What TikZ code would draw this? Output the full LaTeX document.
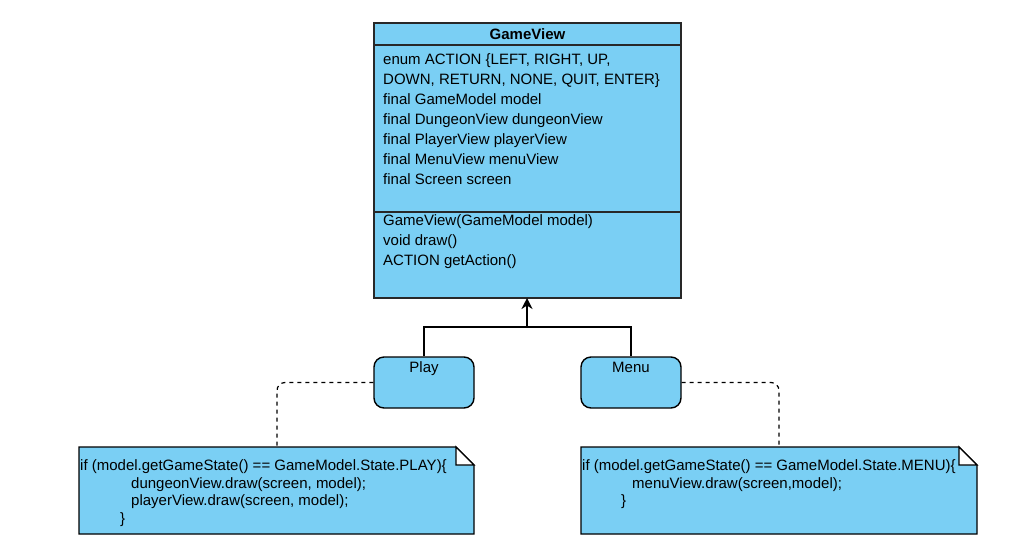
\documentclass[tikz,border=0pt]{standalone}
\usepackage{fontspec}
\setmainfont{Liberation Sans}
\usetikzlibrary{arrows.meta}
\definecolor{boxblue}{RGB}{122,207,244}
\definecolor{edge}{RGB}{40,40,40}
\tikzset{
  txt/.style={inner sep=0pt, anchor=base west, font=\fontsize{15}{18}\selectfont},
  ntxt/.style={inner sep=0pt, anchor=base west, font=\fontsize{15}{18}\selectfont},
  clsbox/.style={draw=edge, fill=boxblue, line width=1.4pt},
  statebox/.style={draw=black, fill=boxblue, line width=1.4pt, rounded corners=10pt},
  conn/.style={draw=black, line width=1.4pt},
  notebox/.style={fill=boxblue, draw=black, line width=1.4pt},
  foldbox/.style={fill=white, draw=black, line width=1.4pt, line join=miter},
  dashconn/.style={draw=black, line width=1.2pt, dash pattern=on 4pt off 4pt, rounded corners=8pt},
}
\begin{document}
\begin{tikzpicture}[x=1pt,y=-1pt]
\useasboundingbox (0,0) rectangle (1022,552);
% class box
\path[clsbox] (374,23) rectangle (681,298);
\coordinate (cls) at (527,298);
\draw[edge, line width=1.4pt] (374,45) -- (681,45);
\draw[edge, line width=1.4pt] (374,212) -- (681,212);
\node[inner sep=0pt, anchor=base, font=\fontsize{15}{18}\selectfont\bfseries] (title) at (527.5,39.5) {GameView};
\foreach \t [count=\i] in {{enum ACTION \{LEFT, RIGHT, UP,},{DOWN, RETURN, NONE, QUIT, ENTER\}},final GameModel model,final DungeonView dungeonView,final PlayerView playerView,final MenuView menuView,final Screen screen}
  \node[txt] (attr\i) at (383,{64.5+(\i-1)*20}) {\t};
\foreach \t [count=\i] in {GameView(GameModel model),void draw(),ACTION getAction()}
  \node[txt] (meth\i) at (383,{225+(\i-1)*20}) {\t};
% state boxes
\node[statebox, minimum width=100pt, minimum height=51pt, inner sep=0pt] (play) at (424,382.5) {};
\node[statebox, minimum width=100pt, minimum height=51pt, inner sep=0pt] (menu) at (631,382.5) {};
\node[inner sep=0pt, anchor=base, font=\fontsize{15}{18}\selectfont] (playlbl) at (424,372.5) {Play};
\node[inner sep=0pt, anchor=base, font=\fontsize{15}{18}\selectfont] (menulbl) at (631,372.5) {Menu};
% inheritance connectors
\coordinate (join) at (527,327);
\draw[conn] (play.north) |- (join);
\draw[conn] (menu.north) |- (join);
\draw[conn, line width=1.8pt, -{Stealth[length=11pt,width=11pt,inset=3.5pt]}] (join) -- (cls);
% notes
\path[notebox] (79,447) -- (456,447) -- (474,465) -- (474,534) -- (79,534) -- cycle;
\path[foldbox] (456,447) -- (456,465) -- (474,465) -- cycle;
\coordinate (noteL) at (277,447);
\path[notebox] (581,447) -- (959,447) -- (977,465) -- (977,534) -- (581,534) -- cycle;
\path[foldbox] (959,447) -- (959,465) -- (977,465) -- cycle;
\coordinate (noteR) at (779,447);
\node[ntxt] (l1) at (80,470) {if (model.getGameState() == GameModel.State.PLAY)\{};
\node[ntxt] (l2) at (131,488) {dungeonView.draw(screen, model);};
\node[ntxt] (l3) at (131,505.5) {playerView.draw(screen, model);};
\node[ntxt] (l4) at (120,523) {\}};
\node[ntxt] (r1) at (582,470) {if (model.getGameState() == GameModel.State.MENU)\{};
\node[ntxt] (r2) at (632,488) {menuView.draw(screen,model);};
\node[ntxt] (r3) at (621,505.5) {\}};
% dashed anchors
\draw[dashconn] (play.west) -| (noteL);
\draw[dashconn] (menu.east) -| (noteR);
\end{tikzpicture}
\end{document}
